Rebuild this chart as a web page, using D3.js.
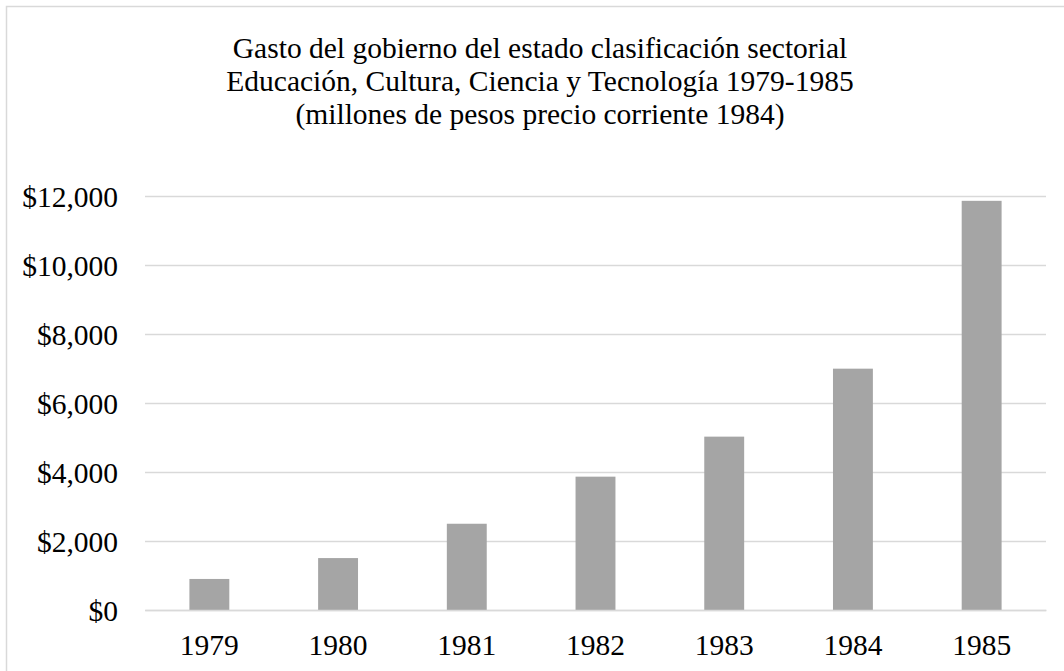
<!DOCTYPE html>
<html>
<head>
<meta charset="utf-8">
<script src="https://cdn.jsdelivr.net/npm/d3@7"></script>
<style>
  body { margin: 0; background: #fff; }
  svg text { font-family: "Liberation Serif", "Times New Roman", serif; fill: #000; }
</style>
</head>
<body>
<div id="chart"></div>
<script>
const years = ["1979", "1980", "1981", "1982", "1983", "1984", "1985"];
const gasto = [900, 1505, 2500, 3865, 5025, 6995, 11860];
const yTicks = [0, 2000, 4000, 6000, 8000, 10000, 12000];
const titleLines = [
    "Gasto del gobierno del estado clasificación sectorial",
    "Educación, Cultura, Ciencia y Tecnología 1979-1985",
    "(millones de pesos precio corriente 1984)"
];

const width = 1064, height = 671;
const margin = {top: 196, right: 18, bottom: 61, left: 145};

const svg = d3.select("#chart").append("svg")
    .attr("width", width)
    .attr("height", height);

svg.append("rect")
    .attr("x", 6.5).attr("y", 6.5)
    .attr("width", width).attr("height", height)
    .attr("fill", "#fff")
    .attr("stroke", "#d9d9d9")
    .attr("stroke-width", 1.5);

svg.selectAll(".title")
    .data(titleLines)
    .enter()
    .append("text")
    .attr("class", "title")
    .attr("x", 540)
    .attr("y", (d, i) => 58 + i * 33)
    .attr("text-anchor", "middle")
    .style("font-size", "29.5px")
    .text(d => d);

const x = d3.scaleBand()
    .domain(years)
    .range([margin.left, width - margin.right])
    .paddingInner(0.69)
    .paddingOuter(0.345);

const y = d3.scaleLinear()
    .domain([0, 12000])
    .range([height - margin.bottom, margin.top]);

const fmt = d => "$" + d3.format(",")(d);

const yAxis = svg.append("g")
    .attr("transform", `translate(${margin.left},0)`)
    .call(d3.axisLeft(y).tickValues(yTicks).tickFormat(fmt)
        .tickSize(-(width - margin.left - margin.right)).tickPadding(27));
yAxis.select(".domain").remove();
yAxis.selectAll(".tick line").attr("stroke", "#d9d9d9").attr("stroke-width", 1.5);
yAxis.selectAll(".tick text")
    .style("font-size", "29.5px")
    .attr("dy", "0.34em");

svg.append("g")
    .selectAll("rect")
    .data(gasto)
    .enter()
    .append("rect")
    .attr("x", (d, i) => x(years[i]))
    .attr("y", d => y(d))
    .attr("width", x.bandwidth())
    .attr("height", d => y(0) - y(d))
    .attr("fill", "#a5a5a5");

const xAxis = svg.append("g")
    .attr("transform", `translate(0,${height - margin.bottom})`)
    .call(d3.axisBottom(x).tickSize(0));
xAxis.select(".domain").attr("stroke", "#d9d9d9").attr("stroke-width", 1.5);
xAxis.selectAll(".tick text")
    .style("font-size", "29.5px")
    .attr("y", 45)
    .attr("dy", 0);
</script>
</body>
</html>
